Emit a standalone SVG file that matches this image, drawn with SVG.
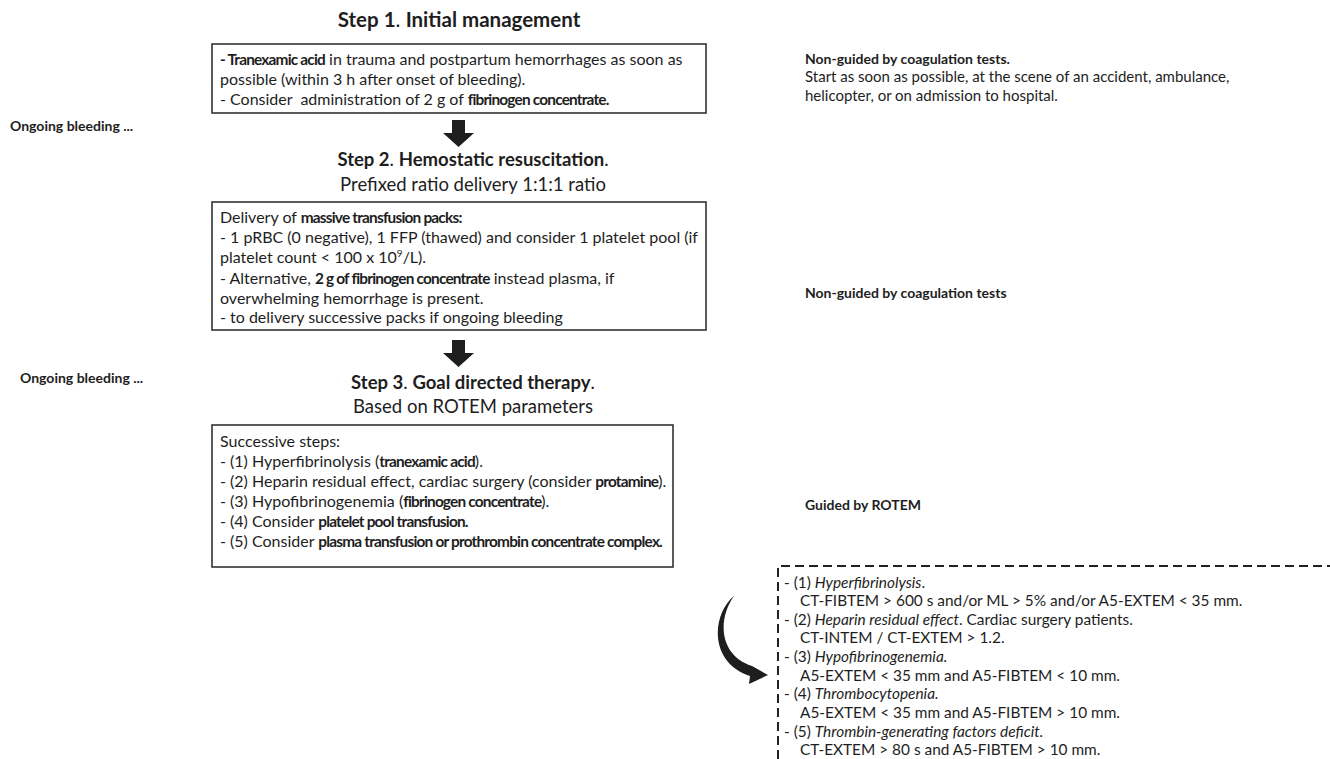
<svg xmlns="http://www.w3.org/2000/svg" width="1330" height="759" viewBox="0 0 1330 759">
<style>
text{font-family:Lato,"Open Sans",sans-serif;fill:#1e1e1e}
.t{font-size:16px}
.t .b{font-size:15.4px;letter-spacing:-0.8px}
.h{font-size:18.5px}
.h1{font-size:20.5px}
.r{font-size:15px}
.rb{font-size:14px;font-weight:bold}
.d{font-size:15.4px}
.b{font-weight:bold}
.i{font-style:italic}
.box{fill:#fff;stroke:#333;stroke-width:1.6}
.arr{fill:#1e1e1e}
.dash{fill:none;stroke:#222;stroke-width:2;stroke-dasharray:9 5}
</style>
<rect width="1330" height="759" fill="#fff"/>

<g id="step1">
<text x="459" y="27" text-anchor="middle" class="h1"><tspan class="b">Step 1</tspan>. <tspan class="b">Initial management</tspan></text>
<rect class="box" x="212" y="44" width="494" height="69"/>
<text class="t" x="220" y="65"><tspan class="b">- Tranexamic acid</tspan> in trauma and postpartum hemorrhages as soon as</text>
<text class="t" x="220" y="85">possible (within 3 h after onset of bleeding).</text>
<text class="t" x="220" y="105" style="white-space:pre">- Consider  administration of 2 g of <tspan class="b">fibrinogen concentrate.</tspan></text>
</g>

<g id="note1">
<text class="rb" x="805" y="64">Non-guided by coagulation tests.</text>
<text class="r" x="805" y="82">Start as soon as possible, at the scene of an accident, ambulance,</text>
<text class="r" x="805" y="101">helicopter, or on admission to hospital.</text>
</g>

<g id="bleed1">
<text class="rb" x="10" y="131">Ongoing bleeding ...</text>
</g>

<g id="step2">
<text x="473" y="166" text-anchor="middle" class="h"><tspan class="b">Step 2</tspan>. <tspan class="b">Hemostatic resuscitation</tspan>.</text>
<text x="473" y="191" text-anchor="middle" class="h">Prefixed ratio delivery 1:1:1 ratio</text>
<rect class="box" x="212" y="202" width="494" height="128"/>
<text class="t" x="220" y="223">Delivery of <tspan class="b">massive transfusion packs:</tspan></text>
<text class="t" x="220" y="243">- 1 pRBC (0 negative), 1 FFP (thawed) and consider 1 platelet pool (if</text>
<text class="t" x="220" y="263">platelet count &lt; 100 x 10<tspan font-size="10" dy="-6">9</tspan><tspan dy="6">/L).</tspan></text>
<text class="t" x="220" y="284">- Alternative, <tspan class="b">2 g of fibrinogen concentrate</tspan> instead plasma, if</text>
<text class="t" x="220" y="304">overwhelming hemorrhage is present.</text>
<text class="t" x="220" y="323">- to delivery successive packs if ongoing bleeding</text>
</g>

<g id="note2">
<text class="rb" x="805" y="298">Non-guided by coagulation tests</text>
</g>

<g id="bleed2">
<text class="rb" x="20" y="383">Ongoing bleeding ...</text>
</g>

<g id="step3">
<text x="473" y="389" text-anchor="middle" class="h"><tspan class="b">Step 3</tspan>. <tspan class="b">Goal directed therapy</tspan>.</text>
<text x="473" y="413" text-anchor="middle" class="h">Based on ROTEM parameters</text>
<rect class="box" x="212" y="425" width="461" height="142"/>
<text class="t" x="220" y="447">Successive steps:</text>
<text class="t" x="220" y="467">- (1) Hyperfibrinolysis (<tspan class="b">tranexamic acid</tspan>).</text>
<text class="t" x="220" y="487">- (2) Heparin residual effect, cardiac surgery (consider <tspan class="b">protamine</tspan>).</text>
<text class="t" x="220" y="507">- (3) Hypofibrinogenemia (<tspan class="b">fibrinogen concentrate</tspan>).</text>
<text class="t" x="220" y="527">- (4) Consider <tspan class="b">platelet pool transfusion.</tspan></text>
<text class="t" x="220" y="547">- (5) Consider <tspan class="b">plasma transfusion or prothrombin concentrate complex.</tspan></text>
</g>

<g id="note3">
<text class="rb" x="805" y="510">Guided by ROTEM</text>
</g>

<g id="rotem">
<path class="dash" d="M778 759 V566 H1330"/>
<text class="d" x="784" y="588">- (1) <tspan class="i">Hyperfibrinolysis</tspan>.</text>
<text class="d" x="800" y="606">CT-FIBTEM &gt; 600 s and/or ML &gt; 5% and/or A5-EXTEM &lt; 35 mm.</text>
<text class="d" x="784" y="625">- (2) <tspan class="i">Heparin residual effect</tspan>. Cardiac surgery patients.</text>
<text class="d" x="800" y="643">CT-INTEM / CT-EXTEM &gt; 1.2.</text>
<text class="d" x="784" y="662">- (3) <tspan class="i">Hypofibrinogenemia.</tspan></text>
<text class="d" x="800" y="681">A5-EXTEM &lt; 35 mm and A5-FIBTEM &lt; 10 mm.</text>
<text class="d" x="784" y="699">- (4) <tspan class="i">Thrombocytopenia.</tspan></text>
<text class="d" x="800" y="718">A5-EXTEM &lt; 35 mm and A5-FIBTEM &gt; 10 mm.</text>
<text class="d" x="784" y="737">- (5) <tspan class="i">Thrombin-generating factors deficit.</tspan></text>
<text class="d" x="800" y="755">CT-EXTEM &gt; 80 s and A5-FIBTEM &gt; 10 mm.</text>
</g>

<g id="connectors">
<polygon class="arr" points="452,120 465,120 465,133 474,133 458.5,147 443,133 452,133"/>
<polygon class="arr" points="452,340 465,340 465,353 474,353 458.5,367 443,353 452,353"/>
<path class="arr" d="M734 596 C712 614 708 662 750 676 L749 684 L768 675 L752 666 C718 655 718 618 734 596 Z"/>
</g>
</svg>
